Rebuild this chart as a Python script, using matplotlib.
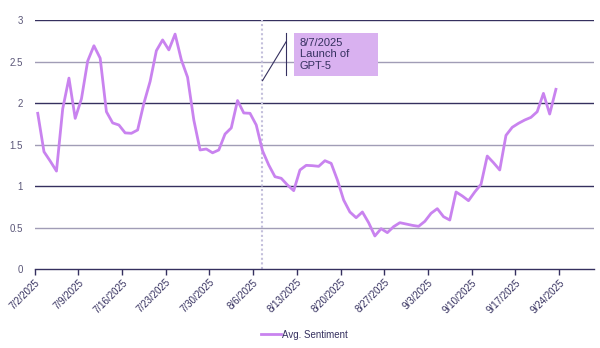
import matplotlib
matplotlib.use("Agg")
import matplotlib.pyplot as plt
import matplotlib.dates as mdates
import pandas as pd
import numpy as np

start_date = "2025-07-02"
sentiment = [
    1.876, 1.413, 1.30, 1.18, 1.93, 2.30, 1.815, 2.05, 2.506, 2.69,
    2.54, 1.895, 1.76, 1.735, 1.64, 1.635, 1.675, 1.996, 2.26, 2.63,
    2.76, 2.64, 2.83, 2.52, 2.31, 1.795, 1.434, 1.446, 1.40, 1.434,
    1.626, 1.70, 2.03, 1.88, 1.876, 1.735, 1.425, 1.253, 1.112, 1.093,
    1.012, 0.944, 1.193, 1.249, 1.245, 1.237, 1.305, 1.273, 1.072, 0.831,
    0.687, 0.618, 0.687, 0.558, 0.398, 0.486, 0.438, 0.51, 0.558, 0.542,
    0.526, 0.514, 0.574, 0.671, 0.727, 0.63, 0.59, 0.928, 0.88, 0.823,
    0.928, 1.02, 1.361, 1.281, 1.193, 1.61, 1.707, 1.755, 1.795, 1.827,
    1.895, 2.116, 1.867, 2.165,
]
series_name = "Avg. Sentiment"
event_date = "2025-08-07"
event_label = "8/7/2025\nLaunch of\nGPT-5"
tick_dates = pd.date_range("2025-07-02", "2025-09-24", freq="7D")
y_ticks = [0, 0.5, 1, 1.5, 2, 2.5, 3]

NAVY = "#35305f"
GRID_LIGHT = "#a19db6"
LINE = "#c983ef"
BOX = "#d9b1f0"

plt.rcParams["font.family"] = ["Liberation Sans", "DejaVu Sans"]

dates = pd.date_range(start_date, periods=len(sentiment), freq="D")
half_day = pd.Timedelta(hours=12)

fig = plt.figure(figsize=(6.0, 3.48), dpi=100)
ax = fig.add_axes([0.0577, 0.227, 0.9323, 0.7155])

for y in y_ticks[1:]:
    col = NAVY if float(y).is_integer() else GRID_LIGHT
    ax.axhline(y, color=col, lw=1.0, zorder=1)

x_start = pd.Timestamp(start_date)
x_end = x_start + pd.Timedelta(days=89.6)
ax.set_xlim(x_start, x_end)
ax.set_ylim(0, 3)

ev = pd.Timestamp(event_date) + half_day
ax.axvline(ev, color="#c4c0dc", lw=1.5, ls=(0, (1, 1.2)), zorder=2)

ax.plot(dates + half_day, sentiment, color=LINE, lw=2.0, zorder=3, label=series_name)

# annotation callout
evn = mdates.date2num(pd.Timestamp(event_date))
bx0 = evn + 5.57
bx1 = evn + 19.08
ax.add_patch(plt.Rectangle((bx0, 2.329), bx1 - bx0, 0.511, fc=BOX, ec="none", zorder=4))
ax.text(bx0 + 0.9, 2.785, event_label, fontsize=8, color=NAVY, va="top", ha="left",
        linespacing=1.2, zorder=5)
vx = evn + 4.29
ax.plot([vx, vx], [2.335, 2.84], color=NAVY, lw=0.8, zorder=5)
ax.plot([mdates.date2num(ev), vx], [2.269, 2.739], color=NAVY, lw=0.8, zorder=5)

ax.set_xticks(tick_dates)
ax.set_xticklabels([f"{d.month}/{d.day}/{d.year}" for d in tick_dates],
                   rotation=45, ha="right", rotation_mode="anchor",
                   fontsize=7, color=NAVY)
ax.set_yticks(y_ticks)
ax.set_yticklabels([f"{v:g}" for v in y_ticks], fontsize=7, color="#5a5678")
ax.tick_params(axis="y", length=0, pad=8.5)
ax.tick_params(axis="x", length=4, width=1, color=NAVY, pad=2)

for s in ["top", "right", "left"]:
    ax.spines[s].set_visible(False)
ax.spines["bottom"].set_color(NAVY)
ax.spines["bottom"].set_linewidth(1.0)

leg = fig.legend(loc="center", bbox_to_anchor=(0.5075, 0.038), frameon=False,
                 fontsize=7, handlelength=2.05, handletextpad=0.1)
for t in leg.get_texts():
    t.set_color(NAVY)

fig.savefig("out.png", dpi=100)
